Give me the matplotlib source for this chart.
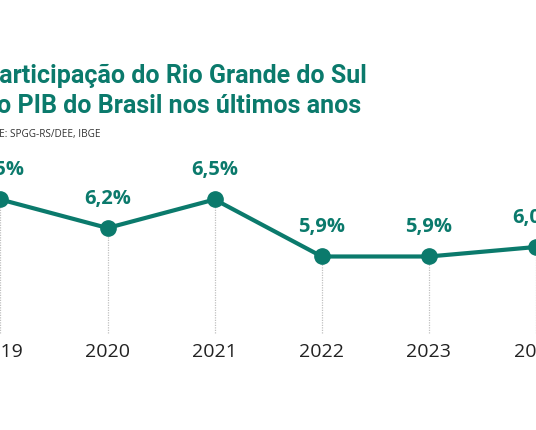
import matplotlib
matplotlib.use("Agg")
import matplotlib.pyplot as plt

years = [2019, 2020, 2021, 2022, 2023, 2024]
values = [6.5, 6.2, 6.5, 5.9, 5.9, 6.0]
labels = ["6,5%", "6,2%", "6,5%", "5,9%", "5,9%", "6,0%"]
title_lines = ["Participação do Rio Grande do Sul", "no PIB do Brasil nos últimos anos"]
source = "FONTE: SPGG-RS/DEE, IBGE"

TEAL = "#0b7a6c"
W, H = 536, 430
fig = plt.figure(figsize=(W / 100, H / 100), dpi=100)
fig.patch.set_facecolor("white")

# axes covering pixel rows 150..340
ax = fig.add_axes([0, (H - 340) / H, 1, 190 / H])
ax.set_xlim(2019 - 0.004, 2024 + 0.0)
ax.set_ylim(5.021, 7.021)
ax.axis("off")

ax.vlines(years, [5.095] * len(years), values, colors="#c0c0c0",
          linestyles=(0, (1, 1)), linewidth=0.9, zorder=1)
ax.plot(years, values, color=TEAL, linewidth=3.0, zorder=2, clip_on=False,
        solid_capstyle="round")
ax.plot(years, values, "o", color=TEAL, markersize=11, zorder=3, clip_on=False)

for x, v, t in zip(years, values, labels):
    ax.annotate(t, (x, v), xytext=(0, 21), textcoords="offset points",
                ha="center", va="center", fontsize=14.5, fontweight="bold",
                family="Open Sans", color=TEAL, annotation_clip=False)
    ax.annotate(str(x), (x, 5.021), xytext=(0, -8.5), textcoords="offset points",
                ha="center", va="center", fontsize=14, family="Open Sans",
                color="#222222", annotation_clip=False)

# title (partially cut off on the left, as in the reference)
fig.text(-17 / W, 1 - 83 / H, title_lines[0], ha="left", va="baseline",
         fontsize=18, fontweight="bold", family="Roboto", color=TEAL)
fig.text(-17 / W, 1 - 113 / H, title_lines[1], ha="left", va="baseline",
         fontsize=18, fontweight="bold", family="Roboto", color=TEAL)
fig.text(-27 / W, 1 - 137 / H, source, ha="left", va="baseline",
         fontsize=7.2, family="Open Sans", color="#333333")

fig.savefig("out.png", dpi=100, facecolor="white")
